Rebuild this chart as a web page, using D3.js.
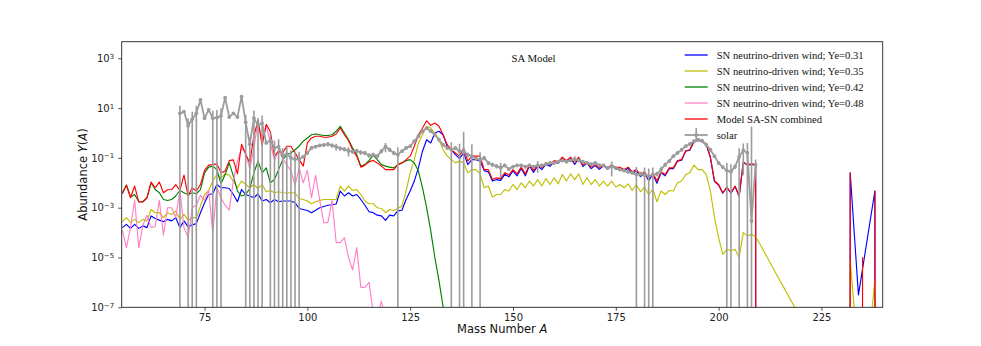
<!DOCTYPE html>
<html><head><meta charset="utf-8">
<script src="https://cdn.jsdelivr.net/npm/d3@7"></script>
<style>body{margin:0;background:#fff}</style>
</head><body>
<svg id="chart" width="981" height="346"></svg>
<script>
// ---------------- data (log10 of abundance Y(A)) ----------------
// NIL = abundance 0 (clipped to the bottom like matplotlib), null = no point
const NIL = -Infinity;
const modelStartA = 55;           // first mass number of model arrays (A = 55 ... 240)
const solarStartA = 69;           // first mass number of solar arrays (A = 69 ... 209)
const xTickValues = [75, 100, 125, 150, 175, 200, 225];
const yTickExponents = [-7, -5, -3, -1, 1, 3];
const seriesLabels = [
  "SN neutrino-driven wind; Ye=0.31",
  "SN neutrino-driven wind; Ye=0.35",
  "SN neutrino-driven wind; Ye=0.42",
  "SN neutrino-driven wind; Ye=0.48",
  "Model SA-SN combined"
];
const solarLabel = "solar";
const titleText = "SA Model";

const ye031 = [
 -3.8,-3.67,-3.83,-3.67,-3.83,-3.73,-3.8,-3.33,-3.43,-3.5,-3.56,-3.47,-3.53,-3.4,-3.8,-3.53,-3.77,-3.69,-3.64,-3.2,-2.8,-2.47,-2.44,-2.07,-2.2,-2.2,-2.23,-2.47,-2.76,-2.27,-2.47,-2.53,
 -2.6,-2.44,-2.73,-2.67,-2.8,-2.67,-2.76,-2.73,-2.73,-2.73,-2.8,-3.03,-3.07,-3.11,-3.2,-3.1,-3.0,-2.95,-2.9,-2.88,-2.85,-2.33,-2.53,-2.4,-2.53,-2.47,-2.67,-2.9,-3.16,
 -3.2,-3.3,-3.33,-3.51,-3.3,-3.33,-3.13,-3.1,
 -2.67,-2.33,-1.93,-1.4,-0.73,-0.27,-0.4,0.0,0.07,-0.07,-0.53,-0.67,-0.87,-1.03,-0.8,-1.27,-1.07,-1.07,-1.13,-1.51,-1.56,-1.93,-1.87,
 -1.9,-1.66,-1.76,-1.52,-1.72,-1.42,-1.72,-1.32,-1.58,-1.32,-1.47,-1.25,-1.34,-1.15,-1.22,-1.01,-1.17,-1.01,-1.26,-1.01,-1.35,-1.2,-1.43,-1.31,-1.46,-1.31,-1.46,-1.31,-1.46,-1.42,
 -1.52,-1.42,-1.63,-1.52,-1.75,-1.62,-1.92,-1.66,-2.02,-1.6,-1.72,-1.43,-1.43,-1.13,-1.09,-0.73,-0.69,-0.35,-0.29,-0.35,-0.46,-0.99,-1.95,-2.09,-2.42,-2.19,-2.42,-2.15,-2.55,-1.18,-1.29,-1.26,-1.29,
 NIL,NIL,NIL,NIL,NIL,NIL,NIL,NIL,NIL,NIL,NIL,NIL,NIL,NIL,NIL,NIL,NIL,NIL,NIL,NIL,NIL,NIL,
 -1.6,null,-6.5,null,null,null,-2.33,NIL,NIL
];
const ye035 = [
 -3.56,-3.4,-3.6,-3.47,-3.6,-3.47,-3.53,-3.07,-3.2,-3.2,-3.4,-3.2,-3.27,-3.13,-3.47,-3.27,-3.5,-3.4,-3.4,-2.93,-2.47,-2.31,-1.93,-1.67,-1.8,-1.64,-1.69,-1.93,-2.2,-1.93,-2.07,-2.2,
 -2.07,-2.23,-2.07,-2.36,-2.31,-2.4,-2.36,-2.4,-2.41,-2.4,-2.4,-2.63,-2.67,-2.73,-2.84,-2.76,-2.71,-2.67,-2.67,-2.67,-2.67,-2.13,-2.33,-2.13,-2.31,-2.27,-2.47,-2.73,
 -2.84,-2.84,-3.0,-3.03,-3.2,-3.07,-3.11,-3.03,-2.93,-2.33,-1.6,-1.07,-0.4,-0.07,0.27,0.2,0.0,-0.27,-0.67,-0.93,-1.07,-1.2,-1.13,-1.2,-1.6,-1.47,-1.47,-1.64,-2.2,-2.13,-2.57,-2.47,
 -2.47,-2.27,-2.33,-2.07,-2.27,-2.0,-2.2,-1.93,-2.13,-1.87,-2.13,-1.83,-2.07,-1.8,-2.04,-1.67,-1.93,-1.64,-1.87,-1.64,-2.07,-1.8,-2.07,-1.87,-2.13,-1.93,-2.13,-1.93,-2.17,-2.07,
 -2.2,-2.04,-2.31,-2.07,-2.36,-2.17,-2.47,-2.27,-2.76,-2.33,-2.47,-2.31,-2.33,-2.0,-1.93,-1.67,-1.6,-1.29,-1.47,-1.47,-1.67,-2.33,-3.4,-4.2,-4.87,-4.67,-4.73,-4.67,-5.0,-4.0,-4.13,-4.07,-4.17,
 -4.45,-4.75,-5.05,-5.35,-5.65,-5.95,-6.25,-6.55,-6.85,-7.15,-7.45,
 NIL,NIL,NIL,NIL,NIL,NIL,NIL,NIL,NIL,NIL,NIL,-5.1,-7.1,NIL,NIL,NIL,-7.6,-5.9,NIL,NIL
];
const ye042 = [
 -2.4,-2.09,-2.57,-2.47,-2.76,-2.76,-2.6,-2.0,-2.27,-2.4,-2.67,-2.71,-2.67,-2.53,-2.31,-2.4,-2.47,-2.4,-2.44,-2.27,-1.6,-1.37,-1.33,-1.47,-2.04,-1.67,-1.2,-1.73,-2.33,-2.53,-2.47,-2.23,
 -1.6,-1.13,-1.6,-1.4,-2.0,-1.87,-1.47,-1.07,-0.87,-0.8,-0.67,-0.53,-0.33,-0.2,-0.07,-0.04,-0.07,-0.1,-0.1,-0.07,0.07,0.27,0.0,-0.27,-0.6,-0.87,-1.33,-1.27,-1.1,
 -0.89,-1.07,-1.27,-1.33,-1.37,-1.4,-1.27,-1.2,-1.11,-1.07,-1.2,-1.53,-2.2,-3.0,-3.93,-5.0,-5.93,-6.97,-8.1
];
const ye048 = [
 -3.9,-4.6,-3.8,-2.7,-4.6,-3.7,-3.3,-3.8,-3.75,-2.7,-4.1,-3.0,-3.0,-3.4,-2.3,-3.8,-4.2,-3.0,-2.9,-2.5,-2.7,-2.3,-4.0,-2.2,-2.6,-2.9,-3.1,-1.93,-1.13,-0.6,
 -0.8,-1.45,-0.6,0.5,-0.3,0.3,-0.4,-1.1,-0.7,-1.0,-1.3,-1.5,-2.1,-1.4,-2.0,-1.5,-2.6,-1.7,-2.7,-3.6,-3.6,-2.7,-4.4,-4.4,-4.2,-5.0,-5.5,-4.6,-6.2,-6.2,-6.0,-7.2,-7.4,-6.75,-7.6
];
const combined = [
 -2.44,-2.1,-2.6,-2.13,-2.77,-2.77,-2.6,-1.97,-2.2,-1.97,-2.4,-2.28,-2.27,-2.07,-2.3,-1.69,-2.53,-2.2,-2.33,-2.07,-1.5,-1.29,-1.27,-1.24,-1.6,-1.53,-1.11,-1.08,-1.64,-0.45,
 -0.85,-1.2,-0.1,0.5,-0.5,0.35,0.05,-0.93,-0.73,-0.8,-0.53,-0.53,-0.8,-1.07,-1.33,-0.4,-0.2,-0.13,-0.13,-0.17,-0.17,-0.13,-0.04,0.2,-0.07,-0.3,-0.67,-0.93,-1.37,-1.29,-1.16,
 -1.1,-1.2,-1.33,-1.47,-1.47,-1.47,-1.27,-1.2,-1.07,-0.93,-0.53,-0.07,0.2,0.49,0.31,0.4,0.27,-0.07,-0.47,-0.67,-0.8,-0.93,-0.6,-1.13,-0.93,-0.93,-0.93,-1.47,-1.47,-1.87,-1.8,
 -1.83,-1.6,-1.69,-1.47,-1.64,-1.37,-1.64,-1.27,-1.51,-1.27,-1.4,-1.2,-1.27,-1.11,-1.16,-0.97,-1.11,-0.97,-1.2,-0.97,-1.29,-1.16,-1.37,-1.27,-1.4,-1.27,-1.4,-1.27,-1.4,-1.37,
 -1.47,-1.37,-1.56,-1.47,-1.67,-1.56,-1.83,-1.6,-1.93,-1.56,-1.67,-1.4,-1.4,-1.11,-1.07,-0.71,-0.67,-0.33,-0.27,-0.33,-0.44,-0.97,-1.93,-2.07,-2.4,-2.17,-2.4,-2.13,-2.53,-1.16,-1.27,-1.24,-1.27,
 NIL,NIL,NIL,NIL,NIL,NIL,NIL,NIL,NIL,NIL,NIL,NIL,NIL,NIL,NIL,NIL,NIL,NIL,NIL,NIL,NIL,NIL,
 -1.6,NIL,NIL,-5.0,NIL,NIL,-2.33,NIL,NIL
];
const solar = [
 0.79,0.86,0.29,0.55,0.79,1.33,0.59,0.93,0.59,0.62,0.69,1.42,0.64,0.79,0.64,1.46,0.43,
 -0.45,0.6,0.3,0.4,-0.4,-0.3,-0.6,-0.55,-0.9,-0.85,-1.0,-1.05,-1.05,-0.95,
 -0.8,-0.6,-0.55,-0.5,-0.48,-0.45,-0.5,-0.55,-0.62,-0.65,-0.72,-0.75,-0.72,-0.78,-0.8,-0.9,
 -0.87,-0.93,-0.73,-0.55,-0.67,-0.8,-0.87,-0.73,-0.6,-0.53,-0.33,-0.13,0.07,0.2,0.07,-0.07,-0.27,-0.47,-0.6,-0.67,-0.6,-0.73,-0.73,-0.87,-0.93,-1.03,-1.07,-1.0,-1.2,-1.27,-1.33,
 -1.4,-1.3,-1.45,-1.35,-1.3,-1.3,-1.35,-1.3,-1.35,-1.3,-1.3,-1.25,-1.2,-1.2,-1.15,-1.1,-1.15,-1.1,-1.05,-1.1,-1.15,-1.2,-1.25,-1.2,-1.3,-1.3,-1.4,-1.35,-1.4,-1.47,
 -1.51,-1.56,-1.6,-1.67,-1.64,-1.69,-1.73,-1.69,-1.64,-1.47,-1.27,-1.13,-0.93,-0.8,-0.67,-0.53,-0.44,-0.33,-0.27,-0.31,-0.47,-0.67,-0.93,-1.2,-1.37,-1.51,-1.56,-1.35,-0.95,-0.7,-0.8,-3.53,-1.27
];
// relative (linear) error of the solar values
const solarRelErr = [
 1,.12,1,1,1,.12,.12,.12,1,1,
 1,.12,.12,.12,.12,.12,1,1,1,1,
 1,.12,1,1,1,1,1,1,1,1,
 .15,.15,.15,.15,.15,.15,.2,.2,.3,.2,
 .2,.4,.2,.2,.2,.2,.2,.2,.2,.2,
 .4,.2,.2,1,.15,.15,.15,.15,.15,.15,
 .15,.15,.15,.15,.15,.15,1,.2,1,5,
 .2,2,.2,1,.2,.2,.2,.2,.6,.15,
 .15,.15,.15,.15,.15,.15,.15,.5,.15,.15,
 .15,.15,.15,.15,.15,.15,.3,.15,.15,.15,
 .15,.15,.15,.15,.15,.6,.15,.15,.15,.15,
 .15,1,.2,1,1,1,.2,.3,.2,.15,
 .15,.15,.15,.15,.15,.15,.15,.15,.15,.15,
 .15,.15,.15,1,1,.2,1.2,.9,1.5,6000,
 .6
];

// ---------------- layout / style ----------------
const W = 981, H = 346;
const plot = {left: 121.7, right: 882.7, top: 41.7, bottom: 307.3};
const seriesColors = ["#0000ff", "#bfbf00", "#008000", "#ff80c8", "#ff0000"];
const solarColor = "#9c9c9c";
const serif = "'Liberation Serif','Times New Roman',serif";
const sans = "'DejaVu Sans',sans-serif";

const svg = d3.select("#chart");
svg.append("rect").attr("width", W).attr("height", H).attr("fill", "#fff");

const x = d3.scaleLinear().domain([54.85, 239.9]).range([plot.left, plot.right]);
const y = d3.scaleLog().domain([1e-7, Math.pow(10, 3.667)]).range([plot.bottom, plot.top]);
const FLOOR = 1e-300; // matplotlib-like clipping of non-positive values
const yv = v => y(v > 0 ? v : FLOOR);

svg.append("clipPath").attr("id", "clip").append("rect")
  .attr("x", plot.left).attr("y", plot.top)
  .attr("width", plot.right - plot.left).attr("height", plot.bottom - plot.top);

function toPoints(arr, startA) {
  const pts = [];
  arr.forEach((v, i) => { if (v !== null) pts.push({A: startA + i, Y: Math.pow(10, v)}); });
  return pts;
}

const g = svg.append("g").attr("clip-path", "url(#clip)");
const line = d3.line().x(d => x(d.A)).y(d => yv(d.Y));

const models = [ye031, ye035, ye042, ye048, combined];
models.forEach((arr, k) => {
  g.append("path").datum(toPoints(arr, modelStartA))
    .attr("d", line).attr("fill", "none")
    .attr("stroke", seriesColors[k]).attr("stroke-width", 1.15)
    .attr("stroke-linejoin", "round");
});

// solar with error bars
const solarPts = solar.map((v, i) => {
  const Y = Math.pow(10, v), r = solarRelErr[i];
  return {A: solarStartA + i, Y: Y, lo: Y - r * Y, hi: Y + r * Y};
});
g.append("g").selectAll("line").data(solarPts).join("line")
  .attr("x1", d => x(d.A)).attr("x2", d => x(d.A))
  .attr("y1", d => yv(d.hi)).attr("y2", d => yv(d.lo))
  .attr("stroke", solarColor).attr("stroke-width", 1.6);
g.append("path").datum(solarPts).attr("d", line).attr("fill", "none")
  .attr("stroke", solarColor).attr("stroke-width", 1.8).attr("stroke-linejoin", "round");
g.append("g").selectAll("circle").data(solarPts).join("circle")
  .attr("cx", d => x(d.A)).attr("cy", d => yv(d.Y)).attr("r", 1.9)
  .attr("fill", solarColor);

// axes
const xAxis = d3.axisBottom(x).tickValues(xTickValues).tickSize(3.5).tickPadding(3.5).tickFormat(d3.format("d"));
const gx = svg.append("g").attr("transform", `translate(0,${plot.bottom})`).call(xAxis);
gx.select(".domain").remove();
gx.selectAll("line").attr("stroke", "#222").attr("stroke-width", 0.8);
gx.selectAll("text").attr("font-family", sans).attr("font-size", 10).attr("fill", "#222");

const yAxis = d3.axisLeft(y).tickValues(yTickExponents.map(e => Math.pow(10, e))).tickSize(3.5).tickFormat(() => "");
const gy = svg.append("g").attr("transform", `translate(${plot.left},0)`).call(yAxis);
gy.select(".domain").remove();
gy.selectAll("line").attr("stroke", "#222").attr("stroke-width", 0.8);
gy.selectAll(".tick").each(function(d) {
  const e = Math.round(Math.log10(d));
  const t = d3.select(this).select("text")
    .attr("x", -7.5).attr("dy", "0.32em").attr("text-anchor", "end")
    .attr("font-family", sans).attr("font-size", 10).attr("fill", "#222");
  t.append("tspan").text("10");
  t.append("tspan").attr("dy", "-0.45em").attr("font-size", 7).text(e < 0 ? "\u2212" + (-e) : String(e));
});

// frame
svg.append("rect").attr("x", plot.left).attr("y", plot.top)
  .attr("width", plot.right - plot.left).attr("height", plot.bottom - plot.top)
  .attr("fill", "none").attr("stroke", "#222").attr("stroke-width", 0.9);

// axis labels
const xl = svg.append("text").attr("x", (plot.left + plot.right) / 2).attr("y", 333)
  .attr("text-anchor", "middle").attr("font-family", sans).attr("font-size", 11.5).attr("fill", "#111");
xl.append("tspan").text("Mass Number ");
xl.append("tspan").attr("font-style", "italic").text("A");

const yl = svg.append("text").attr("transform", `translate(87,${(plot.top + plot.bottom) / 2}) rotate(-90)`)
  .attr("text-anchor", "middle").attr("font-family", sans).attr("font-size", 11.5).attr("fill", "#111");
yl.append("tspan").text("Abundance ");
yl.append("tspan").attr("font-style", "italic").text("Y");
yl.append("tspan").text("(");
yl.append("tspan").attr("font-style", "italic").text("A");
yl.append("tspan").text(")");

// title text inside axes
svg.append("text").attr("x", x(155)).attr("y", y(1e3) + 3.5)
  .attr("text-anchor", "middle").attr("font-family", serif).attr("font-size", 10.8).attr("fill", "#111")
  .text(titleText);

// legend
const lg = svg.append("g").attr("transform", `translate(${plot.right - 198},55)`);
const legendItems = seriesLabels.map((s, i) => ({label: s, color: seriesColors[i], solar: false}))
  .concat([{label: solarLabel, color: solarColor, solar: true}]);
legendItems.forEach((it, i) => {
  const row = lg.append("g").attr("transform", `translate(0,${i * 16})`);
  row.append("line").attr("x1", 0).attr("x2", 23).attr("y1", 0).attr("y2", 0)
    .attr("stroke", it.color).attr("stroke-width", it.solar ? 1.8 : 1.3);
  if (it.solar) {
    row.append("line").attr("x1", 11.5).attr("x2", 11.5).attr("y1", -7).attr("y2", 7)
      .attr("stroke", it.color).attr("stroke-width", 1.6);
    row.append("circle").attr("cx", 11.5).attr("cy", 0).attr("r", 1.9).attr("fill", it.color);
  }
  row.append("text").attr("x", 32).attr("y", 0).attr("dy", "0.33em")
    .attr("font-family", serif).attr("font-size", 10.6).attr("fill", "#111").text(it.label);
});
</script>
</body></html>
